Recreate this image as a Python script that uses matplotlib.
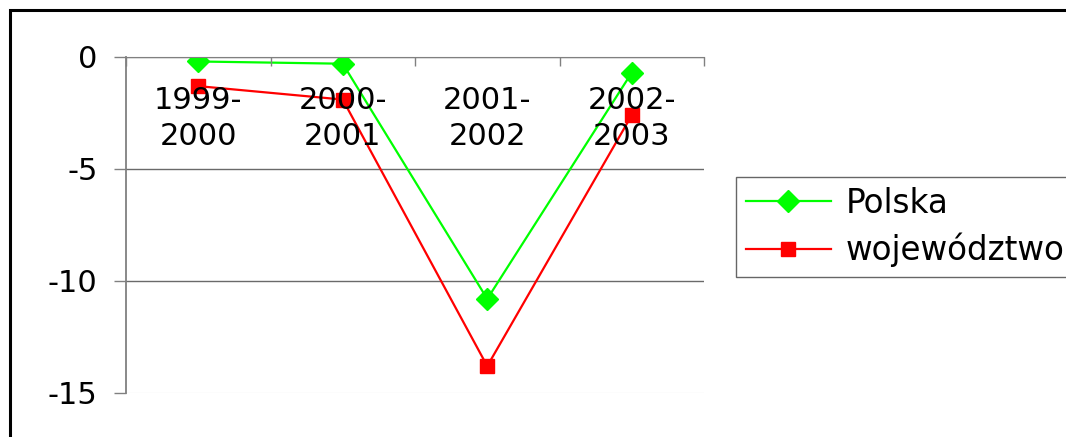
import matplotlib.pyplot as plt
from matplotlib.lines import Line2D
from matplotlib.ticker import FixedLocator

plt.rcParams['font.family'] = ['DejaVu Sans']
plt.rcParams['axes.unicode_minus'] = False

# dane
okresy = ['1999-\n2000', '2000-\n2001', '2001-\n2002', '2002-\n2003']
polska = [-0.2, -0.3, -10.8, -0.7]
wojewodztwo = [-1.3, -1.9, -13.8, -2.6]
y_ticks = [0, -5, -10, -15]

fig = plt.figure(figsize=(10.66, 4.37), dpi=100)
ax = fig.add_axes([126 / 1066, 1 - 393 / 437, 578 / 1066, 336 / 437])

x = range(len(okresy))
ax.plot(x, polska, color='#00ff00', lw=1.6, marker='D', markersize=11.5,
        label='Polska', zorder=2)
ax.plot(x, wojewodztwo, color='#ff0000', lw=1.6, marker='s', markersize=10,
        label='województwo', zorder=2)

ax.set_xlim(-0.5, len(okresy) - 0.5)
ax.set_ylim(-15, 0)
ax.set_yticks(y_ticks)
ax.set_yticklabels([str(v) for v in y_ticks])

# os kategorii na wysokosci 0
ax.spines['bottom'].set_position(('data', 0))
ax.spines['bottom'].set_color('#808080')
ax.spines['left'].set_color('#808080')
ax.spines['left'].set_linewidth(1.3)
ax.spines['top'].set_visible(False)
ax.spines['right'].set_visible(False)

ax.xaxis.set_major_locator(FixedLocator([i - 0.5 for i in range(len(okresy) + 1)]))
ax.xaxis.set_minor_locator(FixedLocator(list(x)))
ax.set_xticklabels([], minor=False)
ax.set_xticklabels(okresy, minor=True, fontsize=22, linespacing=1.3)
ax.tick_params(axis='x', which='major', direction='out', length=6.5, width=1,
               color='#808080')
ax.tick_params(axis='x', which='minor', length=0, pad=21)
ax.tick_params(axis='y', direction='out', length=8.6, width=1, color='#808080',
               labelsize=22, pad=12)

ax.yaxis.grid(True, color='#6a6a6a', lw=1)
ax.get_ygridlines()[-1].set_color('#f2f2f2')
ax.set_axisbelow(True)
ax.xaxis.set_zorder(3)

leg = fig.legend(loc='upper left', bbox_to_anchor=(736 / 1066, 1 - 177 / 437),
                 fontsize=23.5, frameon=True, fancybox=False, handlelength=2.6,
                 handletextpad=0.45, borderpad=0.3, labelspacing=0.4,
                 borderaxespad=0)
leg.get_frame().set_edgecolor('#404040')
leg.get_frame().set_linewidth(1)

# ramka wykresu (lewa i gorna krawedz)
x0 = 9.5 / 1066
y0 = 1 - 9.5 / 437
fig.add_artist(Line2D([x0, x0, 1.0], [0.0, y0, y0], transform=fig.transFigure,
                      color='black', lw=2.2, solid_joinstyle='miter'))

fig.savefig('out.png', dpi=100)
